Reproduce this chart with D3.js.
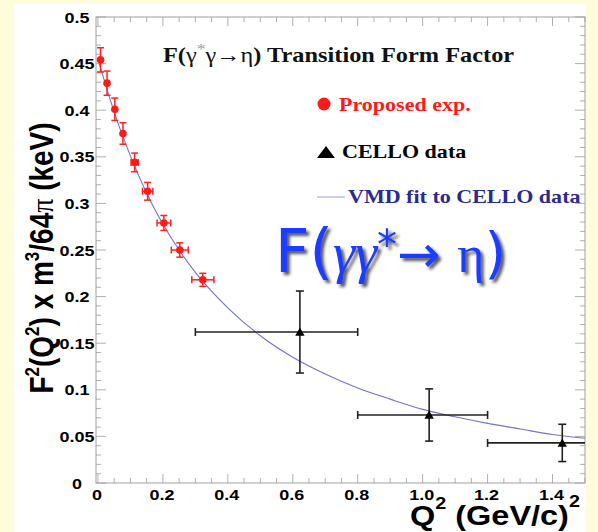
<!DOCTYPE html>
<html><head><meta charset="utf-8">
<script src="https://cdn.jsdelivr.net/npm/d3@7"></script>
<style>body{margin:0;background:#fffcdc;} svg{display:block}</style>
</head><body>
<svg id="c" width="598" height="532"></svg>
<script>
// ---- data ----
const propQ2   = [0.008, 0.028, 0.052, 0.077, 0.113, 0.153, 0.203, 0.252, 0.323];
const propF2   = [0.454, 0.429, 0.401, 0.375, 0.344, 0.313, 0.279, 0.250, 0.218];
const propErrY = [0.013, 0.013, 0.012, 0.0115, 0.010, 0.0095, 0.008, 0.0077, 0.007];
const propErrX = [0.002, 0.004, 0.006, 0.008, 0.011, 0.016, 0.021, 0.026, 0.034];

const celloQ2   = [0.622, 1.02, 1.43];
const celloF2   = [0.162, 0.073, 0.043];
const celloErrY = [0.044, 0.028, 0.020];
const celloBinLo = [0.30, 0.80, 1.20];
const celloBinHi = [0.80, 1.20, 1.60];

const fitQ2 = [0, 0.05, 0.1, 0.15, 0.2, 0.25, 0.3, 0.4, 0.5, 0.6, 0.7, 0.8, 0.9, 1.0, 1.1, 1.2, 1.3, 1.4, 1.5];
const fitF2 = [0.455, 0.398, 0.351, 0.311, 0.278, 0.250, 0.226, 0.188, 0.158, 0.135, 0.117, 0.102, 0.090, 0.079, 0.071, 0.064, 0.058, 0.052, 0.048];

const yTicks = [0, 0.05, 0.1, 0.15, 0.2, 0.25, 0.3, 0.35, 0.4, 0.45, 0.5];
const yTickLabels = ["0", "0.05", "0.1", "0.15", "0.2", "0.25", "0.3", "0.35", "0.4", "0.45", "0.5"];
const xTicks = [0, 0.2, 0.4, 0.6, 0.8, 1.0, 1.2, 1.4];
const xTickLabels = ["0", "0.2", "0.4", "0.6", "0.8", "1.0", "1.2", "1.4"];

// ---- layout ----
const svg = d3.select("#c");
const SX = 1.16; // horizontal stretch of the original picture's text
const L = 96, R = 585, T = 17, B = 483;
const x = d3.scaleLinear().domain([-0.006, 1.5]).range([L, R]);
const y = d3.scaleLinear().domain([0, 0.5]).range([B, T]);

svg.append("rect").attr("x", 14).attr("y", 4).attr("width", 572).attr("height", 528).attr("fill", "#ffffff");

const defs = svg.append("defs");
defs.append("clipPath").attr("id", "clip").append("rect")
  .attr("x", L).attr("y", T).attr("width", R - L).attr("height", B - T);
const f = defs.append("filter").attr("id", "shadow").attr("x", "-10%").attr("y", "-10%").attr("width", "130%").attr("height", "140%");
f.append("feDropShadow").attr("dx", 3).attr("dy", 3).attr("stdDeviation", 1.6)
  .attr("flood-color", "#222").attr("flood-opacity", 0.75);

// ---- axes (ROOT style, ticks inside on all four sides) ----
const tickCol = "#b0b0b0";
const yMinor = d3.range(0, 0.5001, 0.01);
const xMinor = d3.range(0, 1.5001, 0.05);
const ax = svg.append("g").attr("stroke", tickCol).attr("stroke-width", 1);
yMinor.forEach(v => {
  const major = Math.abs(v / 0.05 - Math.round(v / 0.05)) < 1e-6;
  const len = major ? 10 : 5;
  ax.append("line").attr("x1", L).attr("x2", L + len).attr("y1", y(v)).attr("y2", y(v));
  ax.append("line").attr("x1", R).attr("x2", R - len).attr("y1", y(v)).attr("y2", y(v));
});
xMinor.forEach(v => {
  const major = Math.abs(v / 0.2 - Math.round(v / 0.2)) < 1e-6;
  const len = major ? 9 : 5;
  ax.append("line").attr("x1", x(v)).attr("x2", x(v)).attr("y1", B).attr("y2", B - len);
  ax.append("line").attr("x1", x(v)).attr("x2", x(v)).attr("y1", T).attr("y2", T + len);
});
svg.append("rect").attr("x", L).attr("y", T).attr("width", R - L).attr("height", B - T)
  .attr("fill", "none").attr("stroke", "#a0a0a0").attr("stroke-width", 1);

// tick labels
const lab = svg.append("g").attr("font-family", "'Liberation Sans', Arial, sans-serif")
  .attr("font-weight", "bold").attr("font-size", 15.5).attr("fill", "#000");
yTicks.forEach((v, i) => {
  lab.append("text").attr("text-anchor", "middle")
    .attr("transform", `translate(77,${y(v) + 5.5}) scale(${SX},1)`).text(yTickLabels[i]);
});
xTicks.forEach((v, i) => {
  lab.append("text").attr("text-anchor", "middle")
    .attr("transform", `translate(${x(v) - 1},500) scale(${SX},1)`).text(xTickLabels[i]);
});

// axis titles
const xt = svg.append("text").attr("font-family", "'Liberation Sans', Arial, sans-serif")
  .attr("font-weight", "bold").attr("font-size", 28)
  .attr("transform", `translate(410,525) scale(${SX},1)`);
xt.append("tspan").text("Q");
xt.append("tspan").attr("font-size", 17).attr("dy", -16).text("2");
xt.append("tspan").attr("dy", 16).text(" (GeV/c)");
xt.append("tspan").attr("font-size", 17).attr("dy", -18).text("2");

const yt = svg.append("text").attr("font-family", "'Liberation Sans', Arial, sans-serif")
  .attr("font-weight", "bold").attr("font-size", 28).attr("text-anchor", "middle")
  .attr("transform", `translate(53,258) scale(${SX},1) rotate(-90)`);
yt.append("tspan").text("F");
yt.append("tspan").attr("font-size", 17).attr("dy", -12).text("2");
yt.append("tspan").attr("dy", 12).text("(Q");
yt.append("tspan").attr("font-size", 17).attr("dy", -12).text("2");
yt.append("tspan").attr("dy", 12).text(") x m");
yt.append("tspan").attr("font-size", 17).attr("dy", -12).text("3");
yt.append("tspan").attr("dy", 12).text("/64");
yt.append("tspan").attr("font-family", "'Liberation Serif', serif").attr("font-weight", "normal").text("π");
yt.append("tspan").text(" (keV)");

// ---- fit curve ----
const plot = svg.append("g").attr("clip-path", "url(#clip)");
const line = d3.line().x((d, i) => x(fitQ2[i])).y(d => y(d)).curve(d3.curveMonotoneX);
plot.append("path").datum(fitF2).attr("d", line).attr("fill", "none")
  .attr("stroke", "#7474c8").attr("stroke-width", 1.1);

// ---- CELLO data ----
const cg = plot.append("g").attr("stroke", "#222").attr("stroke-width", 1.6);
celloQ2.forEach((q, i) => {
  const cx = x(q), cy = y(celloF2[i]);
  const x1 = x(celloBinLo[i]), x2 = x(celloBinHi[i]);
  const y1 = y(celloF2[i] + celloErrY[i]), y2 = y(celloF2[i] - celloErrY[i]);
  cg.append("line").attr("x1", x1).attr("x2", x2).attr("y1", cy).attr("y2", cy);
  cg.append("line").attr("x1", cx).attr("x2", cx).attr("y1", y1).attr("y2", y2);
  [x1, x2].forEach(xx => cg.append("line").attr("x1", xx).attr("x2", xx).attr("y1", cy - 4).attr("y2", cy + 4));
  [y1, y2].forEach(yy => cg.append("line").attr("x1", cx - 4).attr("x2", cx + 4).attr("y1", yy).attr("y2", yy));
  plot.append("path").attr("d", d3.symbol(d3.symbolTriangle, 38)()).attr("transform", `translate(${cx},${cy + 1})`)
    .attr("fill", "#000");
});

// ---- proposed experiment ----
const pg = plot.append("g").attr("stroke", "#ff2020").attr("stroke-width", 1.5);
propQ2.forEach((q, i) => {
  const cx = x(q), cy = y(propF2[i]);
  const y1 = y(propF2[i] + propErrY[i]), y2 = y(propF2[i] - propErrY[i]);
  const x1 = x(q - propErrX[i]), x2 = x(q + propErrX[i]);
  pg.append("line").attr("x1", cx).attr("x2", cx).attr("y1", y1).attr("y2", y2);
  [y1, y2].forEach(yy => pg.append("line").attr("x1", cx - 3.5).attr("x2", cx + 3.5).attr("y1", yy).attr("y2", yy));
  if (x2 - x1 > 7) {
    pg.append("line").attr("x1", x1).attr("x2", x2).attr("y1", cy).attr("y2", cy);
    [x1, x2].forEach(xx => pg.append("line").attr("x1", xx).attr("x2", xx).attr("y1", cy - 3.5).attr("y2", cy + 3.5));
  }
  plot.append("circle").attr("cx", cx).attr("cy", cy).attr("r", 3.8).attr("fill", "#ff1a1a");
});

// ---- header and legend ----
const serif = "'Liberation Serif', 'Times New Roman', serif";
const ht = svg.append("text").attr("font-family", serif).attr("font-weight", "bold").attr("font-size", 21)
  .attr("transform", `translate(163,62) scale(${SX},1)`).attr("fill", "#111");
ht.append("tspan").text("F(");
ht.append("tspan").attr("font-weight", "normal").text("γ");
ht.append("tspan").attr("font-size", 15).attr("fill", "#999").attr("font-weight", "normal").attr("dy", -8).text("*");
ht.append("tspan").attr("font-weight", "normal").attr("dy", 8).text("γ→η");
ht.append("tspan").text(") Transition Form Factor");

svg.append("circle").attr("cx", 324).attr("cy", 104).attr("r", 6.5).attr("fill", "#ff1a1a");
svg.append("text").attr("font-family", serif).attr("font-weight", "bold").attr("font-size", 19)
  .attr("fill", "#ff1a1a").attr("transform", `translate(339,111) scale(${SX},1)`).text("Proposed exp.");
svg.append("path").attr("d", "M317,158L335,158L326,146Z").attr("fill", "#000");
svg.append("text").attr("font-family", serif).attr("font-weight", "bold").attr("font-size", 19)
  .attr("fill", "#000").attr("transform", `translate(342,158) scale(${SX},1)`).text("CELLO data");
svg.append("line").attr("x1", 317).attr("x2", 345).attr("y1", 197).attr("y2", 197)
  .attr("stroke", "#9a9ae0").attr("stroke-width", 1);
svg.append("text").attr("font-family", serif).attr("font-weight", "bold").attr("font-size", 19)
  .attr("fill", "#2b2b8c").attr("transform", `translate(348,203) scale(${SX},1)`).text("VMD fit to CELLO data");

// ---- big overlay label ----
const bt = svg.append("text").attr("font-size", 60).attr("fill", "#1a3cff")
  .attr("filter", "url(#shadow)").attr("transform", "translate(275,272)");
bt.append("tspan").attr("font-family", "'DejaVu Sans', sans-serif").text("F(");
bt.append("tspan").attr("font-family", serif).attr("font-style", "italic").attr("font-size", 56).text("γγ");
bt.append("tspan").attr("font-family", "'DejaVu Sans', sans-serif").attr("font-size", 40).attr("dy", -13).text("*");
bt.append("tspan").attr("font-family", "'DejaVu Sans', sans-serif").attr("font-size", 52).attr("dy", 13).text("→ ");
bt.append("tspan").attr("font-family", serif).attr("font-size", 52).text("η");
bt.append("tspan").attr("font-family", "'DejaVu Sans', sans-serif").attr("font-size", 56).text(")");
</script>
</body></html>
